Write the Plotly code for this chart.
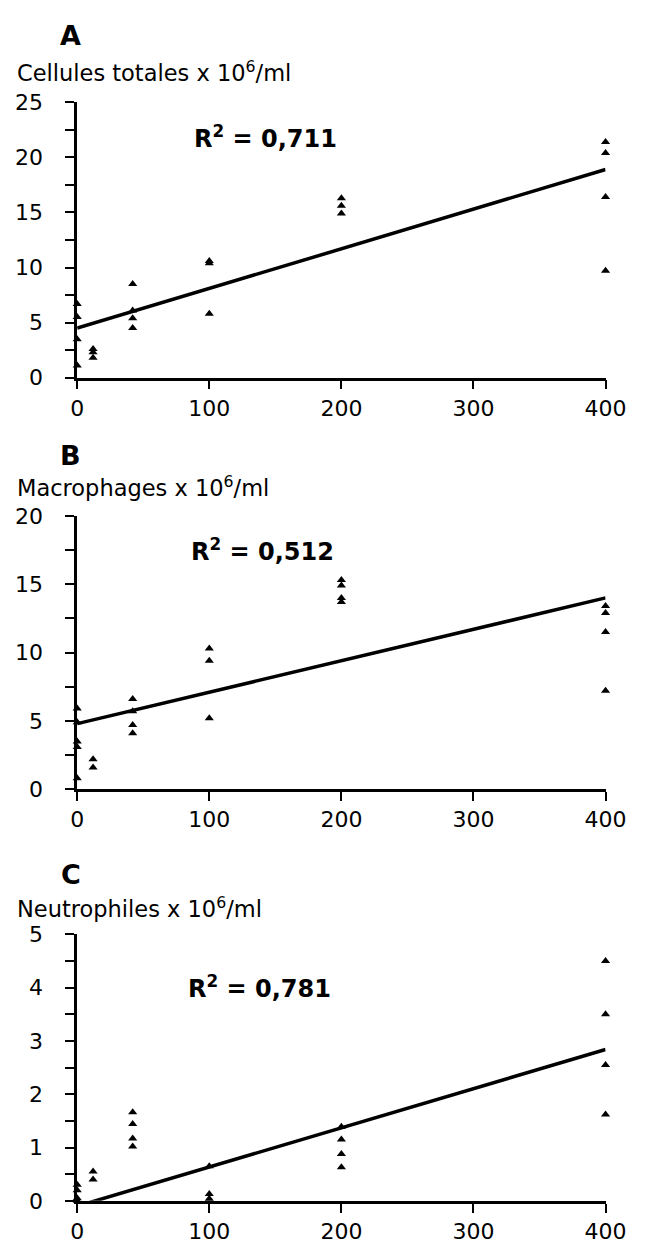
import plotly.graph_objects as go

# page is 661x1256; the html body has an 8px margin, so the figure is shifted by 8px
PAGE_W, PAGE_H = 661, 1256
OFF = 8
W, H = PAGE_W - OFF, PAGE_H - OFF

# ---- data ----
doses_A = [0, 0, 0, 0, 12, 12, 12, 42, 42, 42, 42, 100, 100, 100, 200, 200, 200, 400, 400, 400, 400]
cells_A = [6.7, 5.5, 3.5, 1.1, 2.6, 2.3, 1.8, 8.5, 6.1, 5.4, 4.5, 10.6, 10.4, 5.8, 16.3, 15.6, 14.9, 21.4, 20.4, 16.4, 9.7]

doses_B = [0, 0, 0, 0, 0, 12, 12, 42, 42, 42, 42, 100, 100, 100, 200, 200, 200, 200, 400, 400, 400, 400]
cells_B = [5.9, 4.9, 3.5, 3.1, 0.8, 2.2, 1.6, 6.6, 5.7, 4.7, 4.1, 10.3, 9.4, 5.2, 15.3, 14.9, 14.0, 13.7, 13.4, 12.9, 11.5, 7.2]

doses_C = [0, 0, 0, 0, 12, 12, 42, 42, 42, 42, 100, 100, 100, 200, 200, 200, 200, 400, 400, 400, 400]
cells_C = [0.3, 0.2, 0.05, 0.0, 0.55, 0.4, 1.66, 1.44, 1.17, 1.02, 0.65, 0.13, 0.04, 1.39, 1.15, 0.88, 0.63, 4.5, 3.5, 2.55, 1.62]

# trend lines (slope, intercept)
trend_slope = [0.036, 0.023, 0.00735]
trend_intercept = [4.5, 4.8, -0.1]
r2_text = ["0,711", "0,512", "0,781"]
panel_letters = ["A", "B", "C"]
y_titles = ["Cellules totales x 10<sup>6</sup>/ml", "Macrophages x 10<sup>6</sup>/ml", "Neutrophiles x 10<sup>6</sup>/ml"]
y_max = [25, 20, 5]
y_major = [5, 5, 1]
x_ticks = [0, 100, 200, 300, 400]

datasets = [(doses_A, cells_A), (doses_B, cells_B), (doses_C, cells_C)]

# ---- layout in page pixels ----
x0_px, x1_px = 73, 625
panel_top = [92, 514, 941]
panel_bot = [373, 793, 1213]
letter_y = [24, 452, 880]
title_y = [61, 484, 914]
r2_pos = [(193, 127), (190, 549), (187, 995)]


def px_x(p):
    return (p - OFF) / W


def px_y(p):
    return 1 - (p - OFF) / H


FONT = "DejaVu Sans"
fig = go.Figure()
annotations = []

for i, (xs, ys) in enumerate(datasets):
    n = "" if i == 0 else str(i + 1)
    xa, ya = "x" + n, "y" + n
    fig.add_trace(go.Scatter(x=xs, y=ys, mode="markers", xaxis=xa, yaxis=ya,
                             marker=dict(symbol="triangle-up", size=8, color="black"),
                             cliponaxis=False, showlegend=False))
    lx = [0, 400]
    ly = [trend_intercept[i] + trend_slope[i] * v for v in lx]
    fig.add_trace(go.Scatter(x=lx, y=ly, mode="lines", xaxis=xa, yaxis=ya,
                             line=dict(color="black", width=3.5), showlegend=False))

    fig.layout["xaxis" + n] = dict(
        domain=[px_x(x0_px), px_x(x1_px)], range=[0, 400], anchor=ya,
        tickvals=x_ticks, ticktext=[str(v) for v in x_ticks],
        ticks="outside", ticklen=9, tickwidth=2, tickcolor="black",
        showline=True, linecolor="black", linewidth=2.5, showgrid=False, zeroline=False,
        tickfont=dict(family=FONT, size=22, color="black"))
    fig.layout["yaxis" + n] = dict(
        domain=[px_y(panel_bot[i]), px_y(panel_top[i])], range=[0, y_max[i]], anchor=xa,
        tick0=0, dtick=y_major[i],
        ticks="outside", ticklen=9, tickwidth=2, tickcolor="black",
        minor=dict(tick0=0, dtick=y_major[i] / 2, ticks="outside", ticklen=9, tickwidth=2,
                   tickcolor="black", showgrid=False),
        showline=True, linecolor="black", linewidth=2.5, showgrid=False, zeroline=False,
        ticklabelstandoff=18,
        tickfont=dict(family=FONT, size=22, color="black"))

    annotations.append(dict(x=px_x(66), y=px_y(letter_y[i]), xref="paper", yref="paper",
                            text="<b>" + panel_letters[i] + "</b>", showarrow=False,
                            xanchor="center", yanchor="middle",
                            font=dict(family=FONT, size=27, color="black")))
    annotations.append(dict(x=px_x(8), y=px_y(title_y[i]), xref="paper", yref="paper",
                            text=y_titles[i], showarrow=False, xanchor="left", yanchor="middle",
                            font=dict(family=FONT, size=22.5, color="black")))
    annotations.append(dict(x=px_x(r2_pos[i][0]), y=px_y(r2_pos[i][1]), xref="paper", yref="paper",
                            text="<b>R<sup>2</sup> = " + r2_text[i] + "</b>", showarrow=False,
                            xanchor="left", yanchor="middle",
                            font=dict(family=FONT, size=24, color="black")))

fig.update_layout(width=W, height=H, margin=dict(l=0, r=0, t=0, b=0),
                  plot_bgcolor="white", paper_bgcolor="white", annotations=annotations)

fig.write_html("out.html")
